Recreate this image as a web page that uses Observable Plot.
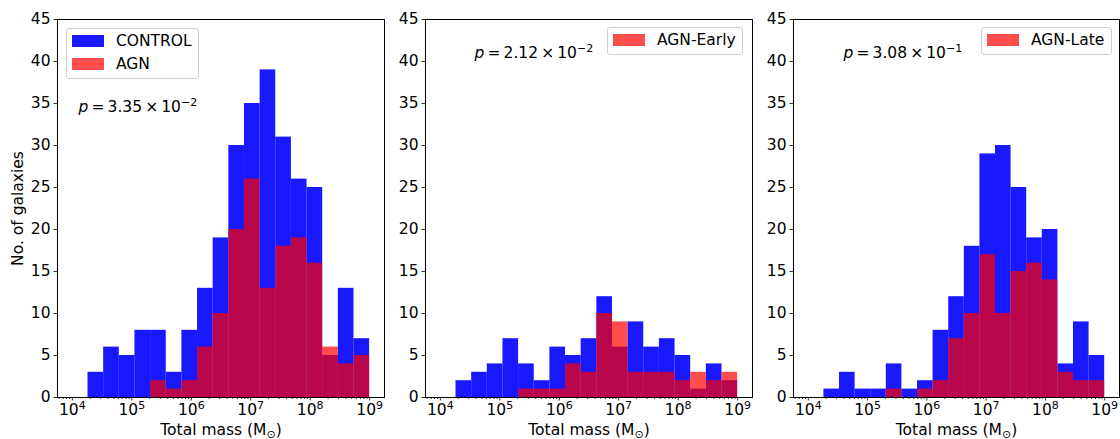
<!DOCTYPE html>
<html>
<head>
<meta charset="utf-8">
<script src="https://cdn.jsdelivr.net/npm/d3@7"></script>
<script src="https://cdn.jsdelivr.net/npm/@observablehq/plot@0.6"></script>
<style>
  html, body { margin: 0; padding: 0; background: white; }
  #chart { position: relative; width: 1120px; height: 439px; font-family: "DejaVu Sans", sans-serif; }
  #chart svg { position: absolute; top: 0; overflow: visible; max-width: none; }
  .legend { position: absolute; border: 1px solid #d0d0d0; border-radius: 3px; background: rgba(255,255,255,0.8); box-sizing: border-box; font-size: 15.5px; color: black; }
  .legend .patch { position: absolute; width: 32px; height: 12px; }
  .legend .lab { position: absolute; white-space: nowrap; line-height: 16px; }
</style>
</head>
<body>
<div id="chart"></div>
<script>
// ---- Data ----
const binLogStart = 4, binLogEnd = 9, nBins = 19;   // log-spaced histogram bins, 1e4 .. 1e9
const panelNames = ["AGN", "AGN-Early", "AGN-Late"];
const controlAll   = [0, 3, 6, 5, 8, 8, 3, 8, 13, 19, 30, 35, 39, 31, 26, 25, 5, 13, 7];
const agnAll       = [0, 0, 0, 0, 0, 2, 1, 2, 6, 10, 20, 26, 13, 18, 19, 16, 6, 4, 5];
const controlEarly = [0, 2, 3, 4, 7, 4, 2, 6, 5, 7, 12, 6, 9, 6, 7, 5, 1, 4, 2];
const agnEarly     = [0, 0, 0, 0, 0, 1, 1, 1, 4, 3, 10, 9, 3, 3, 3, 2, 3, 2, 3];
const controlLate  = [0, 1, 3, 1, 1, 4, 1, 2, 8, 12, 18, 29, 30, 25, 19, 20, 4, 9, 5];
const agnLate      = [0, 0, 0, 0, 0, 1, 0, 1, 2, 7, 10, 17, 10, 15, 16, 14, 3, 2, 2];
const pMantissa = ["3.35", "2.12", "3.08"];
const pExponent = ["−2", "−2", "−1"];
const xTickExps = [4, 5, 6, 7, 8, 9];
const yTicks = [0, 5, 10, 15, 20, 25, 30, 35, 40, 45];
const xLabel = "Total mass (M⊙)";
const yLabel = "No. of galaxies";
const controlLabel = "CONTROL";

// ---- Build ----
const FS = 15.5;
const edges = d3.range(nBins + 1).map(k => 10 ** (binLogStart + k * (binLogEnd - binLogStart) / nBins));
const supDigits = {"0":"⁰","1":"¹","2":"²","3":"³","4":"⁴","5":"⁵","6":"⁶","7":"⁷","8":"⁸","9":"⁹","-":"⁻"};
const unSup = Object.fromEntries(Object.entries(supDigits).map(([k, v]) => [v, k]));
const sup = n => String(n).split("").map(c => supDigits[c]).join("");
const majorTicks = xTickExps.map(e => 10 ** e);
const xDomain = [10 ** 3.75, 10 ** 9.25];
const minorTicks = [];
for (let e = 3; e <= 9; e++) for (let m = 2; m <= 9; m++) {
  const v = m * 10 ** e;
  if (v > xDomain[0] && v < xDomain[1]) minorTicks.push(v);
}

const panels = [
  {control: controlAll, agn: agnAll, left: 0, width: 390, ml: 57, mr: 6, pdx: 21, pdy: 92, ylab: true},
  {control: controlEarly, agn: agnEarly, left: 390, width: 366, ml: 35, mr: 4, pdx: 49, pdy: 38, ylab: false},
  {control: controlLate, agn: agnLate, left: 756, width: 364, ml: 37, mr: 1, pdx: 50, pdy: 38, ylab: false}
];

const chart = document.getElementById("chart");
const TS = "\u2009"; // thin space, like mathtext spacing

panels.forEach((p, idx) => {
  const bins = p.control.map((c, i) => ({x1: edges[i], x2: edges[i + 1], control: c, agn: p.agn[i]}));
  const pText = "p = " + pMantissa[idx] + " × 10" + pExponent[idx];
  const marks = [
    Plot.rectY(bins.filter(d => d.control > 0), {x1: "x1", x2: "x2", y: "control", fill: "blue", fillOpacity: 0.9}),
    Plot.rectY(bins.filter(d => d.agn > 0), {x1: "x1", x2: "x2", y: "agn", fill: "red", fillOpacity: 0.7}),
    Plot.axisX({ticks: minorTicks, tickFormat: () => "", tickSize: 2, label: null, strokeWidth: 0.8}),
    Plot.axisX({ticks: majorTicks, tickFormat: d => "10" + sup(Math.round(Math.log10(d))), tickSize: 3.5, tickPadding: 3, label: null, strokeWidth: 0.8, fontSize: FS}),
    Plot.axisY({ticks: yTicks, tickSize: 3.5, tickPadding: 3.5, label: null, strokeWidth: 0.8, fontSize: FS}),
    Plot.frame({stroke: "black", strokeWidth: 1}),
    Plot.text([xLabel], {text: d => d, frameAnchor: "bottom", textAnchor: "middle", dy: 37, lineAnchor: "bottom", fontSize: FS}),
    Plot.text([pText], {text: d => d, frameAnchor: "top-left", dx: p.pdx, dy: p.pdy, lineAnchor: "bottom", textAnchor: "start", fontSize: FS})
  ];
  if (p.ylab) marks.push(Plot.text([yLabel], {text: d => d, frameAnchor: "left", textAnchor: "middle", dx: -39, rotate: -90, fontSize: FS}));
  const svg = Plot.plot({
    width: p.width, height: 439,
    marginLeft: p.ml, marginRight: p.mr, marginTop: 19, marginBottom: 42,
    x: {type: "log", domain: xDomain},
    y: {domain: [0, 45]},
    style: {fontFamily: "DejaVu Sans", fontSize: FS + "px", color: "black", background: "transparent", overflow: "visible"},
    marks
  });
  svg.style.left = p.left + "px";
  d3.select(svg).selectAll("g[aria-label*='tick label']").attr("font-size", FS);
  d3.select(svg).selectAll("g[aria-label*='tick label'] text").attr("font-size", FS);
  // rich text: superscript exponents, subscript sun, italic p
  d3.select(svg).selectAll("text").each(function() {
    const t = this.textContent;
    const sel = d3.select(this);
    if (t === xLabel) {
      sel.text(null);
      sel.append("tspan").text("Total mass (M");
      sel.append("tspan").attr("font-size", 11).attr("dy", 3).text("⊙");
      sel.append("tspan").attr("dy", -3).text(")");
    } else if (t === pText) {
      sel.text(null);
      sel.append("tspan").attr("font-style", "italic").text("p");
      sel.append("tspan").text(TS + "=" + TS + pMantissa[idx] + TS + "×" + TS + "10");
      sel.append("tspan").attr("font-size", 11).attr("dy", -6).text(pExponent[idx]);
    } else if (/^10[⁰¹²³⁴⁵⁶⁷⁸⁹⁻]+$/.test(t)) {
      const exp = t.slice(2).split("").map(c => unSup[c]).join("");
      sel.text(null);
      sel.append("tspan").text("10");
      sel.append("tspan").attr("font-size", 11).attr("dy", -6).text(exp);
    }
  });
  chart.appendChild(svg);
});

// ---- Legends ----
const legends = [
  {x: 66, y: 28, w: 133, h: 51, entries: [[controlLabel, "#1a1aff"], [panelNames[0], "#ff4d4d"]]},
  {x: 607, y: 27, w: 136, h: 28, entries: [[panelNames[1], "#ff4d4d"]]},
  {x: 981, y: 27, w: 131, h: 28, entries: [[panelNames[2], "#ff4d4d"]]}
];
legends.forEach(L => {
  const box = document.createElement("div");
  box.className = "legend";
  Object.assign(box.style, {left: L.x + "px", top: L.y + "px", width: L.w + "px", height: L.h + "px"});
  L.entries.forEach(([label, color], i) => {
    const patch = document.createElement("div");
    patch.className = "patch";
    Object.assign(patch.style, {left: "5px", top: (6 + i * 23) + "px", background: color});
    const lab = document.createElement("div");
    lab.className = "lab";
    Object.assign(lab.style, {left: "49px", top: (4 + i * 23) + "px"});
    lab.textContent = label;
    box.appendChild(patch);
    box.appendChild(lab);
  });
  chart.appendChild(box);
});
</script>
</body>
</html>
